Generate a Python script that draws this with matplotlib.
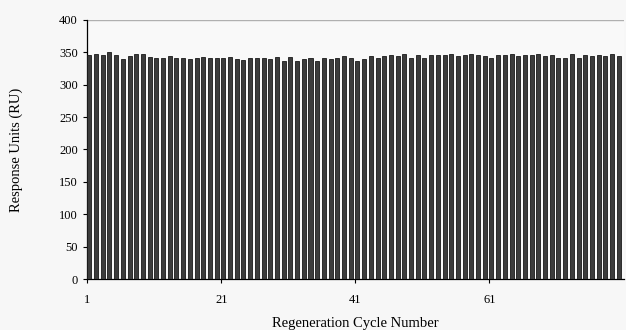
import matplotlib.pyplot as plt
import numpy as np

# response (RU) for each regeneration cycle
cycles = list(range(1, 81))
response = [
    346, 347, 346, 350, 346, 339, 344, 347, 347, 343,
    341, 341, 344, 341, 341, 339, 341, 343, 341, 341,
    341, 343, 339, 338, 342, 341, 341, 340, 343, 337,
    343, 337, 339, 341, 337, 341, 339, 341, 344, 341,
    337, 339, 344, 341, 344, 346, 344, 347, 342, 346,
    341, 346, 346, 346, 347, 344, 346, 347, 346, 344,
    341, 346, 346, 347, 344, 346, 346, 347, 344, 346,
    341, 341, 347, 342, 346, 344, 346, 344, 347, 344,
]
xtick_values = [1, 21, 41, 61]
yticks = list(range(0, 401, 50))

plt.rcParams["font.family"] = ["Liberation Serif", "DejaVu Serif"]

fig = plt.figure(figsize=(6.26, 3.30), dpi=100)
fig.patch.set_facecolor("#f7f7f7")
ax = fig.add_axes([0.139, 0.1545, 0.858, 0.785])
ax.set_facecolor("#f9f9f9")

ax.bar(cycles, response, width=0.6, align="edge",
       color="#3c3c3c", edgecolor="#1a1a1a", linewidth=0.6, zorder=3)

ax.set_ylim(0, 400)
ax.set_xlim(0.95, 81.1)
ax.set_yticks(yticks)
ax.set_xticks(xtick_values)
ax.set_xticklabels([str(v) for v in xtick_values])
ax.tick_params(axis="both", labelsize=9, length=3, width=0.8, colors="black")
ax.tick_params(axis="x", pad=8)

# only gridline at the top
ax.axhline(400, color="#b0b0b0", linewidth=1, zorder=1)

for s in ["top", "right"]:
    ax.spines[s].set_visible(False)
ax.spines["left"].set_linewidth(0.9)
ax.spines["bottom"].set_linewidth(0.9)

ax.set_ylabel("Response Units (RU)", fontsize=10.5, labelpad=26)
ax.set_xlabel("Regeneration Cycle Number", fontsize=10.5, labelpad=8)

fig.savefig("out.png", dpi=100, facecolor=fig.get_facecolor())
